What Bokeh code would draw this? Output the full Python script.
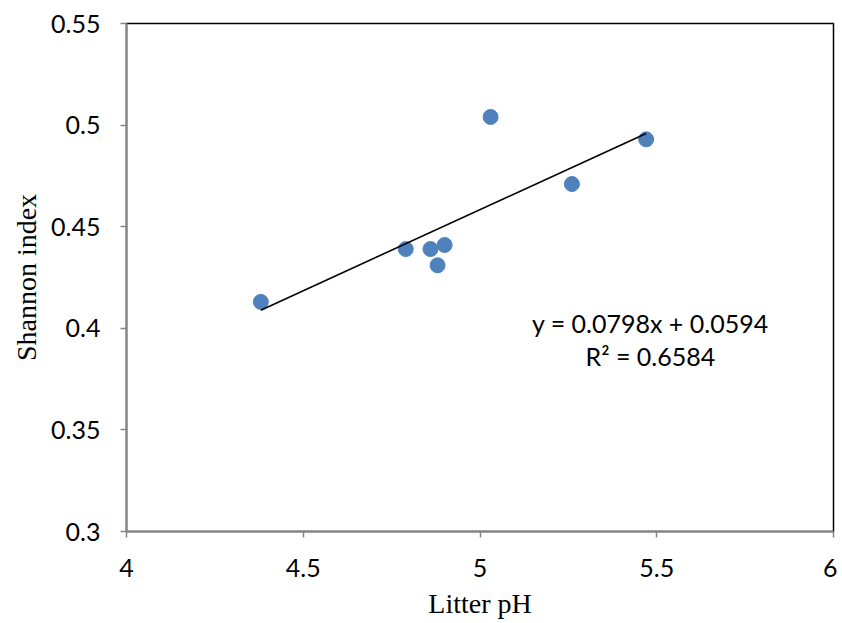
from bokeh.plotting import figure
from bokeh.models import Range1d, Label, FixedTicker
from bokeh.embed import file_html
from bokeh.resources import INLINE

ph = [4.38, 4.79, 4.86, 4.88, 4.90, 5.03, 5.26, 5.47]
shannon = [0.413, 0.439, 0.439, 0.431, 0.441, 0.504, 0.471, 0.493]
slope = 0.0798
intercept = 0.0594
r2 = 0.6584
x_ticks = [4, 4.5, 5, 5.5, 6]
y_ticks = [0.3, 0.35, 0.4, 0.45, 0.5, 0.55]

p = figure(frame_width=707, frame_height=508, output_backend="svg", toolbar_location=None,
           x_range=Range1d(4, 6), y_range=Range1d(0.3, 0.55),
           min_border_left=126, min_border_top=23, min_border_right=4, min_border_bottom=84)
p.grid.visible = False
p.outline_line_color = "black"
p.outline_line_width = 1.5

tick_font = "Lato"
for ax in (p.xaxis[0], p.yaxis[0]):
    ax.axis_line_color = "#868686"
    ax.axis_line_width = 2
    ax.major_tick_line_color = "#868686"
    ax.major_tick_line_width = 1.5
    ax.major_tick_out = 6
    ax.major_tick_in = 0
    ax.minor_tick_line_color = None
    ax.major_label_text_font = tick_font
    ax.major_label_text_font_size = "25px"
    ax.major_label_text_color = "black"
    ax.axis_label_text_font = "Liberation Serif"
    ax.axis_label_text_font_size = "28px"
    ax.axis_label_text_font_style = "normal"
    ax.axis_label_text_color = "black"

p.xaxis[0].ticker = FixedTicker(ticks=x_ticks)
p.yaxis[0].ticker = FixedTicker(ticks=y_ticks)
p.xaxis[0].major_label_overrides = {t: ("%g" % t) for t in x_ticks}
p.yaxis[0].major_label_overrides = {t: ("%g" % t) for t in y_ticks}
p.xaxis[0].major_label_standoff = 21
p.yaxis[0].major_label_standoff = 20
p.xaxis[0].axis_label = "Litter pH"
p.yaxis[0].axis_label = "Shannon index"
p.xaxis[0].axis_label_standoff = 8
p.yaxis[0].axis_label_standoff = 6

p.scatter(ph, shannon, size=15, fill_color="#4F81BD", line_color="#4F81BD", line_width=1)

xs = [min(ph), max(ph)]
ys = [slope * x + intercept for x in xs]
p.line(xs, ys, line_color="black", line_width=1.6)

p.add_layout(Label(x=5.482, y=0.4024, text="y = %.4fx + %.4f" % (slope, intercept),
                   text_font=tick_font, text_font_size="25px", text_align="center",
                   text_baseline="middle", text_color="black"))
p.add_layout(Label(x=5.482, y=0.3866, text="R² = %.4f" % r2,
                   text_font=tick_font, text_font_size="25px", text_align="center",
                   text_baseline="middle", text_color="black"))

open("out.html", "w").write(file_html(p, INLINE))
